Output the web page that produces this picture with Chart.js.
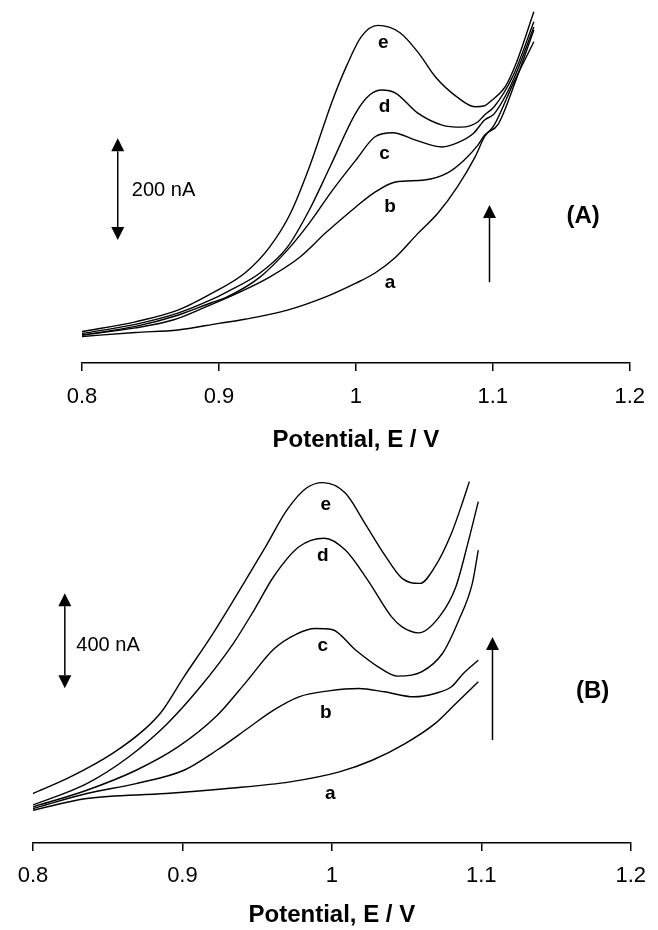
<!DOCTYPE html>
<html>
<head>
<meta charset="utf-8">
<script src="https://cdn.jsdelivr.net/npm/chart.js@4.4.1/dist/chart.umd.min.js"></script>
<style>
  html, body { margin: 0; padding: 0; background: #fff; }
  #wrap { position: relative; width: 658px; height: 930px; overflow: hidden; }
  canvas { position: absolute; left: 0; }
  #cA { top: 0; }
  #cB { top: 460px; }
</style>
</head>
<body>
<div id="wrap">
  <canvas id="cA" width="658" height="460"></canvas>
  <canvas id="cB" width="658" height="470"></canvas>
</div>
<script>
// --- Data: potential (V) and current (nA) ---
const xTicks = [0.8, 0.9, 1.0, 1.1, 1.2];

// Panel A
const aA_x = [0.800, 0.839, 0.870, 0.900, 0.919, 0.950, 0.978, 1.000, 1.014, 1.029, 1.045, 1.060, 1.074, 1.087, 1.094, 1.101, 1.115, 1.130];
const aA_y = [52, 60, 65, 78, 86, 104, 130, 157, 177, 208, 254, 295, 346, 405, 445, 468, 550, 632];
const bA_x = [0.800, 0.839, 0.867, 0.890, 0.914, 0.937, 0.959, 0.978, 1.000, 1.014, 1.029, 1.050, 1.067, 1.079, 1.089, 1.094, 1.104, 1.117, 1.130];
const bA_y = [55, 69, 85, 110, 138, 169, 208, 256, 307, 336, 356, 360, 374, 399, 428, 448, 470, 557, 655];
const cA_x = [0.800, 0.839, 0.870, 0.894, 0.906, 0.930, 0.950, 0.966, 0.983, 1.000, 1.014, 1.027, 1.043, 1.063, 1.074, 1.086, 1.094, 1.101, 1.115, 1.130];
const cA_y = [55, 72, 94, 118, 130, 169, 222, 275, 340, 399, 445, 453, 439, 425, 433, 452, 478, 490, 557, 661];
const dA_x = [0.800, 0.839, 0.870, 0.894, 0.906, 0.930, 0.950, 0.966, 0.981, 1.000, 1.010, 1.019, 1.029, 1.045, 1.063, 1.077, 1.089, 1.094, 1.101, 1.115, 1.130];
const dA_y = [58, 76, 98, 124, 140, 177, 228, 301, 385, 492, 527, 537, 531, 492, 468, 464, 474, 488, 504, 566, 671];
const eA_x = [0.800, 0.839, 0.870, 0.894, 0.919, 0.937, 0.952, 0.966, 0.983, 0.993, 1.004, 1.016, 1.032, 1.046, 1.058, 1.074, 1.087, 1.094, 1.098, 1.109, 1.117, 1.130];
const eA_y = [62, 81, 104, 136, 177, 228, 293, 385, 517, 583, 642, 664, 650, 609, 563, 523, 504, 506, 514, 543, 589, 691];

// Panel B
const aB_x = [0.800, 0.836, 0.889, 0.930, 0.972, 1.005, 1.027, 1.049, 1.069, 1.083, 1.098];
const aB_y = [138, 187, 208, 229, 257, 299, 348, 418, 502, 587, 678];
const bB_x = [0.800, 0.836, 0.869, 0.901, 0.923, 0.945, 0.961, 0.978, 0.998, 1.018, 1.035, 1.055, 1.069, 1.080, 1.088, 1.098];
const bB_y = [145, 208, 250, 306, 390, 488, 559, 615, 640, 650, 636, 615, 629, 657, 713, 769];
const cB_x = [0.800, 0.836, 0.869, 0.897, 0.923, 0.943, 0.961, 0.976, 0.989, 1.000, 1.016, 1.031, 1.044, 1.060, 1.074, 1.085, 1.094, 1.098];
const cB_y = [152, 222, 306, 404, 535, 680, 815, 878, 902, 898, 811, 741, 702, 720, 797, 938, 1092, 1232];
const dB_x = [0.800, 0.836, 0.864, 0.890, 0.912, 0.934, 0.948, 0.961, 0.978, 0.995, 1.009, 1.024, 1.040, 1.047, 1.058, 1.072, 1.083, 1.091, 1.098];
const dB_y = [160, 250, 362, 503, 657, 839, 980, 1120, 1246, 1282, 1232, 1106, 951, 909, 884, 952, 1078, 1260, 1436];
const eB_x = [0.800, 0.825, 0.853, 0.875, 0.886, 0.901, 0.919, 0.941, 0.956, 0.970, 0.983, 0.994, 1.009, 1.022, 1.035, 1.047, 1.059, 1.069, 1.080, 1.088, 1.092];
const eB_y = [208, 278, 376, 480, 552, 699, 867, 1092, 1250, 1401, 1493, 1516, 1472, 1346, 1215, 1113, 1092, 1162, 1302, 1443, 1520];

// --- Annotations (placed in data coordinates) ---
const BOLD = "bold 19px 'Liberation Sans', Arial, sans-serif";
const PANEL = "bold 24px 'Liberation Sans', Arial, sans-serif";
const PLAIN = "20px 'Liberation Sans', Arial, sans-serif";

const notesA = {
  labels: [
    { text: 'e', x: 1.020, y: 629, font: BOLD },
    { text: 'd', x: 1.021, y: 504, font: BOLD },
    { text: 'c', x: 1.021, y: 411, font: BOLD },
    { text: 'b', x: 1.025, y: 307, font: BOLD },
    { text: 'a', x: 1.025, y: 157, font: BOLD },
    { text: '(A)', x: 1.166, y: 289, font: PANEL },
    { text: '200 nA', x: 0.8364, y: 340, font: PLAIN, align: 'left' }
  ],
  arrows: [
    { x: 1.0976, from: 159, to: 311, both: false },
    { x: 0.8261, from: 242, to: 442, both: true }
  ]
};

const notesB = {
  labels: [
    { text: 'e', x: 0.996, y: 1422, font: BOLD },
    { text: 'd', x: 0.994, y: 1207, font: BOLD },
    { text: 'c', x: 0.994, y: 828, font: BOLD },
    { text: 'b', x: 0.996, y: 547, font: BOLD },
    { text: 'a', x: 0.999, y: 208, font: BOLD },
    { text: '(B)', x: 1.1745, y: 636, font: PANEL },
    { text: '400 nA', x: 0.829, y: 832, font: PLAIN, align: 'left' }
  ],
  arrows: [
    { x: 1.1075, from: 433, to: 867, both: false },
    { x: 0.8213, from: 651, to: 1051, both: true }
  ]
};

Chart.defaults.font.family = "'Liberation Sans', Arial, sans-serif";
Chart.defaults.color = '#000';

function drawArrow(ctx, px, y0, y1, both) {
    const head = 13, half = 6.5;
    ctx.lineWidth = 1.5;
    ctx.beginPath();
    ctx.moveTo(px, both ? y0 - head : y0);
    ctx.lineTo(px, y1 + head);
    ctx.stroke();
    ctx.beginPath();
    ctx.moveTo(px, y1); ctx.lineTo(px - half, y1 + head); ctx.lineTo(px + half, y1 + head);
    ctx.closePath(); ctx.fill();
    if (both) {
        ctx.beginPath();
        ctx.moveTo(px, y0); ctx.lineTo(px - half, y0 - head); ctx.lineTo(px + half, y0 - head);
        ctx.closePath(); ctx.fill();
    }
}

function notesPlugin(notes) {
    return {
        id: 'notes',
        afterDatasetsDraw(chart) {
            const { ctx, scales: { x, y } } = chart;
            ctx.save();
            ctx.fillStyle = '#000';
            ctx.strokeStyle = '#000';
            notes.labels.forEach(l => {
                ctx.font = l.font;
                ctx.textAlign = l.align || 'center';
                ctx.textBaseline = 'middle';
                ctx.fillText(l.text, x.getPixelForValue(l.x), y.getPixelForValue(l.y));
            });
            notes.arrows.forEach(a => {
                drawArrow(ctx, x.getPixelForValue(a.x), y.getPixelForValue(a.from), y.getPixelForValue(a.to), a.both);
            });
            ctx.restore();
        }
    };
}

const toPts = (xs, ys) => xs.map((v, i) => ({ x: v, y: ys[i] }));

function makePanel(id, curves, cfg, notes) {
    return new Chart(document.getElementById(id), {
        type: 'line',
        data: {
            datasets: curves.map(c => ({
                data: toPts(c[0], c[1]),
                borderColor: '#000',
                borderWidth: 1.4,
                pointRadius: 0,
                fill: false,
                cubicInterpolationMode: 'monotone'
            }))
        },
        options: {
            responsive: false,
            animation: false,
            devicePixelRatio: 1,
            layout: { padding: { left: cfg.left, right: cfg.right, top: 0, bottom: 0 } },
            plugins: { legend: { display: false }, tooltip: { enabled: false } },
            scales: {
                x: {
                    type: 'linear',
                    min: 0.8, max: 1.2,
                    afterBuildTicks: s => { s.ticks = xTicks.map(v => ({ value: v })); },
                    afterFit: s => { s.height = cfg.axisH; },
                    ticks: {
                        color: '#000',
                        font: { size: 22 },
                        padding: cfg.tickPad,
                        maxRotation: 0,
                        autoSkip: false,
                        callback: v => String(+v.toFixed(1))
                    },
                    grid: { drawOnChartArea: false, drawTicks: true, tickLength: 8, color: '#000', lineWidth: 1.5 },
                    border: { display: true, color: '#000', width: 1.5 },
                    title: {
                        display: true,
                        text: 'Potential, E / V',
                        color: '#000',
                        font: { size: 24, weight: 'bold' },
                        padding: { top: 0, bottom: cfg.titlePad }
                    }
                },
                y: { display: false, min: 0, max: cfg.yMax }
            }
        },
        plugins: [notesPlugin(notes)]
    });
}

makePanel('cA',
    [[aA_x, aA_y], [bA_x, bA_y], [cA_x, cA_y], [dA_x, dA_y], [eA_x, eA_y]],
    { left: 82, right: 20, axisH: 97, tickPad: 13, titlePad: 5, yMax: 714 },
    notesA);

makePanel('cB',
    [[aB_x, aB_y], [bB_x, bB_y], [cB_x, cB_y], [dB_x, dB_y], [eB_x, eB_y]],
    { left: 33, right: 18, axisH: 87, tickPad: 12, titlePad: 0, yMax: 1611 },
    notesB);
</script>
</body>
</html>
